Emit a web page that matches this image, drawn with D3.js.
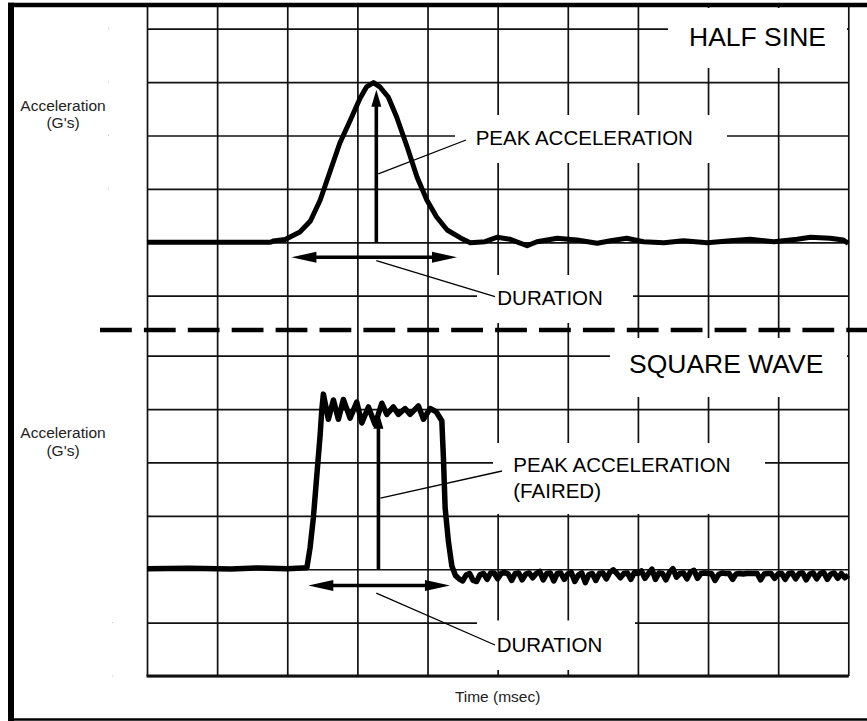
<!DOCTYPE html>
<html>
<head>
<meta charset="utf-8">
<script src="https://cdn.jsdelivr.net/npm/d3@7"></script>
<style>
  html, body { margin: 0; padding: 0; background: #fff; }
  svg { display: block; font-family: "Liberation Sans", Arial, Helvetica, sans-serif; }
  .grid line { stroke: #111; stroke-width: 1.7; }
  .grid path { display: none; }
</style>
</head>
<body>
<svg id="chart" width="867" height="721"></svg>
<script>
// Grid divisions: time (msec) and acceleration levels (G's)
const timeTicks = [0, 1, 2, 3, 4, 5, 6, 7, 8, 9, 10];
const halfSineLevels = [40, 30, 20, 10, 0, -10];
const squareLevels = [40, 30, 20, 10, 0, -10, -20];

// Half-sine shock pulse trace
const halfSineTime = [0, 1.76, 1.80, 1.97, 2.04, 2.18, 2.33, 2.47, 2.61, 2.75,
  2.90, 3.04, 3.13, 3.23, 3.32, 3.44, 3.56, 3.71, 3.85, 3.99,
  4.13, 4.28, 4.47, 4.61, 4.82, 4.99, 5.18, 5.42, 5.56, 5.85,
  6.13, 6.42, 6.61, 6.84, 7.08, 7.37, 7.65, 7.99, 8.32, 8.60,
  8.94, 9.27, 9.46, 9.74, 9.93, 10.0];
const halfSineAccel = [0, 0, 0.24, 0.52, 0.99, 1.93, 3.99, 7.92, 13.26, 18.60,
  22.90, 27.02, 29.1, 29.9, 29.1, 27.21, 23.46, 17.85, 12.23, 7.92,
  4.74, 2.30, 0.81, -0.07, 0.11, 0.94, 0.56, -0.64, 0.11, 0.75,
  0.43, -0.19, 0.30, 0.75, 0.11, -0.07, 0.30, -0.07, 0.30, 0.56,
  0.11, 0.56, 0.94, 0.75, 0.43, -0.19];

// Square-wave shock pulse: rise, ringing plateau and fall
const squarePulseTime = [0, 0.6, 1.2, 1.6, 2.0, 2.28, 2.325, 2.372, 2.421, 2.468,
  2.492, 2.515, 2.586, 2.658, 2.729, 2.800, 2.896, 2.991, 3.063, 3.157,
  3.252, 3.348, 3.419, 3.514, 3.585, 3.680, 3.752, 3.870, 3.942, 4.037,
  4.123, 4.204, 4.227, 4.251, 4.298, 4.347];
const squarePulseAccel = [0.1, 0.2, 0.05, 0.25, 0.1, 0.3, 4.0, 9.6, 17.5, 25.0,
  29.8, 32.8, 28.1, 31.7, 28.1, 31.8, 28.3, 31.3, 27.4, 30.4,
  27.1, 31.1, 29.0, 30.4, 29.0, 30.1, 29.0, 30.6, 28.1, 30.1,
  29.5, 27.8, 20.8, 11.5, 5.2, 0.6];

// Square-wave residual noise after the pulse
const squareTailTime = [
  4.40, 4.45, 4.50, 4.55, 4.60, 4.65, 4.70, 4.75, 4.80, 4.85,
  4.90, 4.95, 5.00, 5.05, 5.10, 5.15, 5.20, 5.25, 5.30, 5.35,
  5.40, 5.45, 5.50, 5.55, 5.60, 5.65, 5.70, 5.75, 5.80, 5.85,
  5.90, 5.95, 6.00, 6.05, 6.10, 6.15, 6.20, 6.25, 6.30, 6.35,
  6.40, 6.45, 6.50, 6.55, 6.60, 6.65, 6.70, 6.75, 6.80, 6.85,
  6.90, 6.95, 7.00, 7.05, 7.10, 7.15, 7.20, 7.25, 7.30, 7.35,
  7.40, 7.45, 7.50, 7.55, 7.60, 7.65, 7.70, 7.75, 7.80, 7.85,
  7.90, 7.95, 8.00, 8.05, 8.10, 8.15, 8.20, 8.25, 8.30, 8.35,
  8.40, 8.45, 8.50, 8.55, 8.60, 8.65, 8.70, 8.75, 8.80, 8.85,
  8.90, 8.95, 9.00, 9.05, 9.10, 9.15, 9.20, 9.25, 9.30, 9.35,
  9.40, 9.45, 9.50, 9.55, 9.60, 9.65, 9.70, 9.75, 9.80, 9.85,
  9.90, 9.95, 10.00];
const squareTailAccel = [
  -1.2, -1.8, -2.2, -1.1, -0.8, -2.1, -2.3, -1.0, -0.8, -1.9,
  -0.7, -0.7, -1.8, -0.8, -0.6, -0.9, -2.1, -0.8, -0.7, -2.0,
  -0.9, -0.7, -1.6, -0.8, -0.4, -2.0, -0.8, -0.7, -2.2, -0.8,
  -0.7, -1.9, -0.9, -0.6, -2.3, -1.1, -0.7, -2.5, -1.0, -0.8,
  -2.1, -0.8, -0.7, -1.8, -0.6, -0.1, -0.8, -1.6, -0.8, -0.7,
  -1.9, -0.6, -0.8, -0.3, -1.7, -0.8, 0.0, -1.9, -0.7, -0.8,
  -2.0, -0.6, 0.1, -1.5, -0.8, -0.7, -1.8, -0.5, -0.2, -1.7,
  -0.8, -0.7, -0.8, -0.8, -2.1, -1.0, -0.7, -0.8, -0.8, -1.9,
  -0.9, -0.8, -0.9, -0.8, -0.8, -0.8, -0.8, -2.0, -0.9, -0.8,
  -0.8, -1.7, -0.9, -0.8, -1.9, -0.8, -0.7, -1.8, -0.8, -0.7,
  -2.0, -0.9, -0.7, -1.8, -0.8, -0.6, -1.9, -0.9, -0.7, -1.7,
  -0.8, -1.6, -1.1];

// Pulse measurements (msec, G's)
const halfSinePeakTime = 3.27;
const halfSineDuration = [2.06, 4.42];
const squarePeakTime = 3.30;
const squarePeakFaired = 29.5;
const squareDuration = [2.30, 4.32];

// ---------------------------------------------------------------
const svg = d3.select("#chart");
const plotLeft = 147, plotRight = 848.3, plotBottom = 676, frameTop = 7;

const x = d3.scaleLinear().domain([0, 10]).range([plotLeft, plotRight]);
const yTop = d3.scaleLinear().domain([-10, 40]).range([295.7, 28.7]);
const yBot = d3.scaleLinear().domain([-20, 40]).range([plotBottom, 355.7]);

// Outer frame
const frame = svg.append("g").attr("stroke", "#000").attr("fill", "none");
frame.append("line").attr("x1", 8).attr("x2", 867).attr("y1", 5).attr("y2", 5).attr("stroke-width", 4.6);
frame.append("line").attr("x1", 11).attr("x2", 11).attr("y1", 2.7).attr("y2", 721).attr("stroke-width", 6);
frame.append("line").attr("x1", 8).attr("x2", 867).attr("y1", 719.5).attr("y2", 719.5).attr("stroke-width", 2.5);

// Grid: vertical time divisions across both panels
svg.append("g").attr("class", "grid")
  .attr("transform", `translate(0,${plotBottom})`)
  .call(d3.axisBottom(x).tickValues(timeTicks).tickSize(-(plotBottom - frameTop)).tickFormat(""));

// Grid: horizontal acceleration levels for each panel
svg.append("g").attr("class", "grid")
  .attr("transform", `translate(${plotLeft},0)`)
  .call(d3.axisLeft(yTop).tickValues(halfSineLevels).tickSize(-(plotRight - plotLeft)).tickFormat(""));
svg.append("g").attr("class", "grid")
  .attr("transform", `translate(${plotLeft},0)`)
  .call(d3.axisLeft(yBot).tickValues(squareLevels).tickSize(-(plotRight - plotLeft)).tickFormat(""));

// Heavier time axis line
svg.append("line").attr("x1", plotLeft - 0.5).attr("x2", plotRight + 0.5)
  .attr("y1", plotBottom).attr("y2", plotBottom)
  .attr("stroke", "#111").attr("stroke-width", 3);

// Faint y tick marks outside the plot
const faint = svg.append("g").attr("stroke", "#c4c4c4").attr("stroke-width", 1);
[40, 30, 20, 10].forEach(v => faint.append("line").attr("x1", 108).attr("x2", 109).attr("y1", yTop(v)).attr("y2", yTop(v)));
[-10, -20].forEach(v => faint.append("line").attr("x1", 112).attr("x2", 113).attr("y1", yBot(v)).attr("y2", yBot(v)));

// White backgrounds behind the annotation labels
const boxes = [
  [668, 8, 179, 60],      // HALF SINE
  [455, 115, 272, 48],    // PEAK ACCELERATION
  [477, 275, 156, 48],    // DURATION
  [610, 338, 237, 59],    // SQUARE WAVE
  [493, 443, 272, 71],    // PEAK ACCELERATION (FAIRED)
  [477, 620.5, 158, 49.5] // DURATION
];
svg.append("g").selectAll("rect").data(boxes).join("rect")
  .attr("x", d => d[0]).attr("y", d => d[1]).attr("width", d => d[2]).attr("height", d => d[3])
  .attr("fill", "#fff");

// Panel separator
svg.append("line").attr("x1", 100).attr("x2", 867).attr("y1", 330).attr("y2", 330)
  .attr("stroke", "#000").attr("stroke-width", 4.3).attr("stroke-dasharray", "31.8,12.1");

// Arrow helpers
function vArrow(g, cx, yBase, yTip, shaft, headLen, headHalf) {
  g.append("line").attr("x1", cx).attr("x2", cx).attr("y1", yBase).attr("y2", yTip + headLen - 1)
    .attr("stroke", "#000").attr("stroke-width", shaft);
  g.append("path").attr("d", `M${cx},${yTip}L${cx - headHalf},${yTip + headLen}L${cx + headHalf},${yTip + headLen}Z`)
    .attr("fill", "#000");
}
function hDoubleArrow(g, x1, x2, cy, shaft, headLen, headHalf) {
  g.append("line").attr("x1", x1 + headLen - 1).attr("x2", x2 - headLen + 1).attr("y1", cy).attr("y2", cy)
    .attr("stroke", "#000").attr("stroke-width", shaft);
  g.append("path").attr("d", `M${x1},${cy}L${x1 + headLen},${cy - headHalf}L${x1 + headLen},${cy + headHalf}Z`).attr("fill", "#000");
  g.append("path").attr("d", `M${x2},${cy}L${x2 - headLen},${cy - headHalf}L${x2 - headLen},${cy + headHalf}Z`).attr("fill", "#000");
}
function leader(g, x1, y1, x2, y2) {
  g.append("line").attr("x1", x1).attr("y1", y1).attr("x2", x2).attr("y2", y2)
    .attr("stroke", "#000").attr("stroke-width", 1.3);
}

const ann = svg.append("g");

// Half sine: peak arrow, duration arrow and leaders
const halfPeak = d3.max(halfSineAccel);
vArrow(ann, x(halfSinePeakTime), yTop(0), yTop(halfPeak) + 7, 3.6, 17, 5);
hDoubleArrow(ann, x(halfSineDuration[0]), x(halfSineDuration[1]), yTop(-2.8), 3.5, 25, 5.5);
leader(ann, x(halfSinePeakTime) + 2, yTop(12.8), 466, 140);
leader(ann, x(halfSinePeakTime), yTop(-3.45), 495, 296.7);

// Square wave: faired peak arrow, duration arrow and leaders
vArrow(ann, x(squarePeakTime), yBot(0), yBot(squarePeakFaired), 3.6, 17, 5);
hDoubleArrow(ann, x(squareDuration[0]), x(squareDuration[1]), yBot(-3.07), 3.5, 25, 5.5);
leader(ann, x(squarePeakTime) + 2, yBot(13.3), 502, 471);
leader(ann, x(3.27), yBot(-4.49), 495, 645);

// Pulse traces
const halfLine = d3.line().x(d => x(d[0])).y(d => yTop(d[1]));
const squareLine = d3.line().x(d => x(d[0])).y(d => yBot(d[1]));
const squareData = d3.zip(squarePulseTime, squarePulseAccel)
  .concat(d3.zip(squareTailTime, squareTailAccel));
svg.append("path").datum(d3.zip(halfSineTime, halfSineAccel)).attr("d", halfLine)
  .attr("fill", "none").attr("stroke", "#000").attr("stroke-width", 5)
  .attr("stroke-linejoin", "round").attr("stroke-linecap", "butt");
svg.append("path").datum(squareData).attr("d", squareLine)
  .attr("fill", "none").attr("stroke", "#000").attr("stroke-width", 5.5)
  .attr("stroke-linejoin", "round").attr("stroke-linecap", "butt");

// Labels
const big = 26.5, mid = 20.5, small = 15.5;
function label(txt, lx, ly, size, anchor, fill) {
  svg.append("text").attr("x", lx).attr("y", ly).attr("font-size", size)
    .attr("text-anchor", anchor || "start").attr("fill", fill || "#000").text(txt);
}
label("HALF SINE", 689, 45.7, big);
label("SQUARE WAVE", 629, 373, big);
label("PEAK ACCELERATION", 475.7, 145, mid);
label("DURATION", 497.3, 305, mid);
label("PEAK ACCELERATION", 513.3, 471.7, mid);
label("(FAIRED)", 513.3, 498.3, mid);
label("DURATION", 496.7, 652, mid);

label("Acceleration", 63, 110.7, small, "middle", "#222");
label("(G's)", 63, 128, small, "middle", "#222");
label("Acceleration", 63, 438.3, small, "middle", "#222");
label("(G's)", 63, 456.3, small, "middle", "#222");
label("Time (msec)", (plotLeft + plotRight) / 2, 702, small, "middle", "#222");
</script>
</body>
</html>
